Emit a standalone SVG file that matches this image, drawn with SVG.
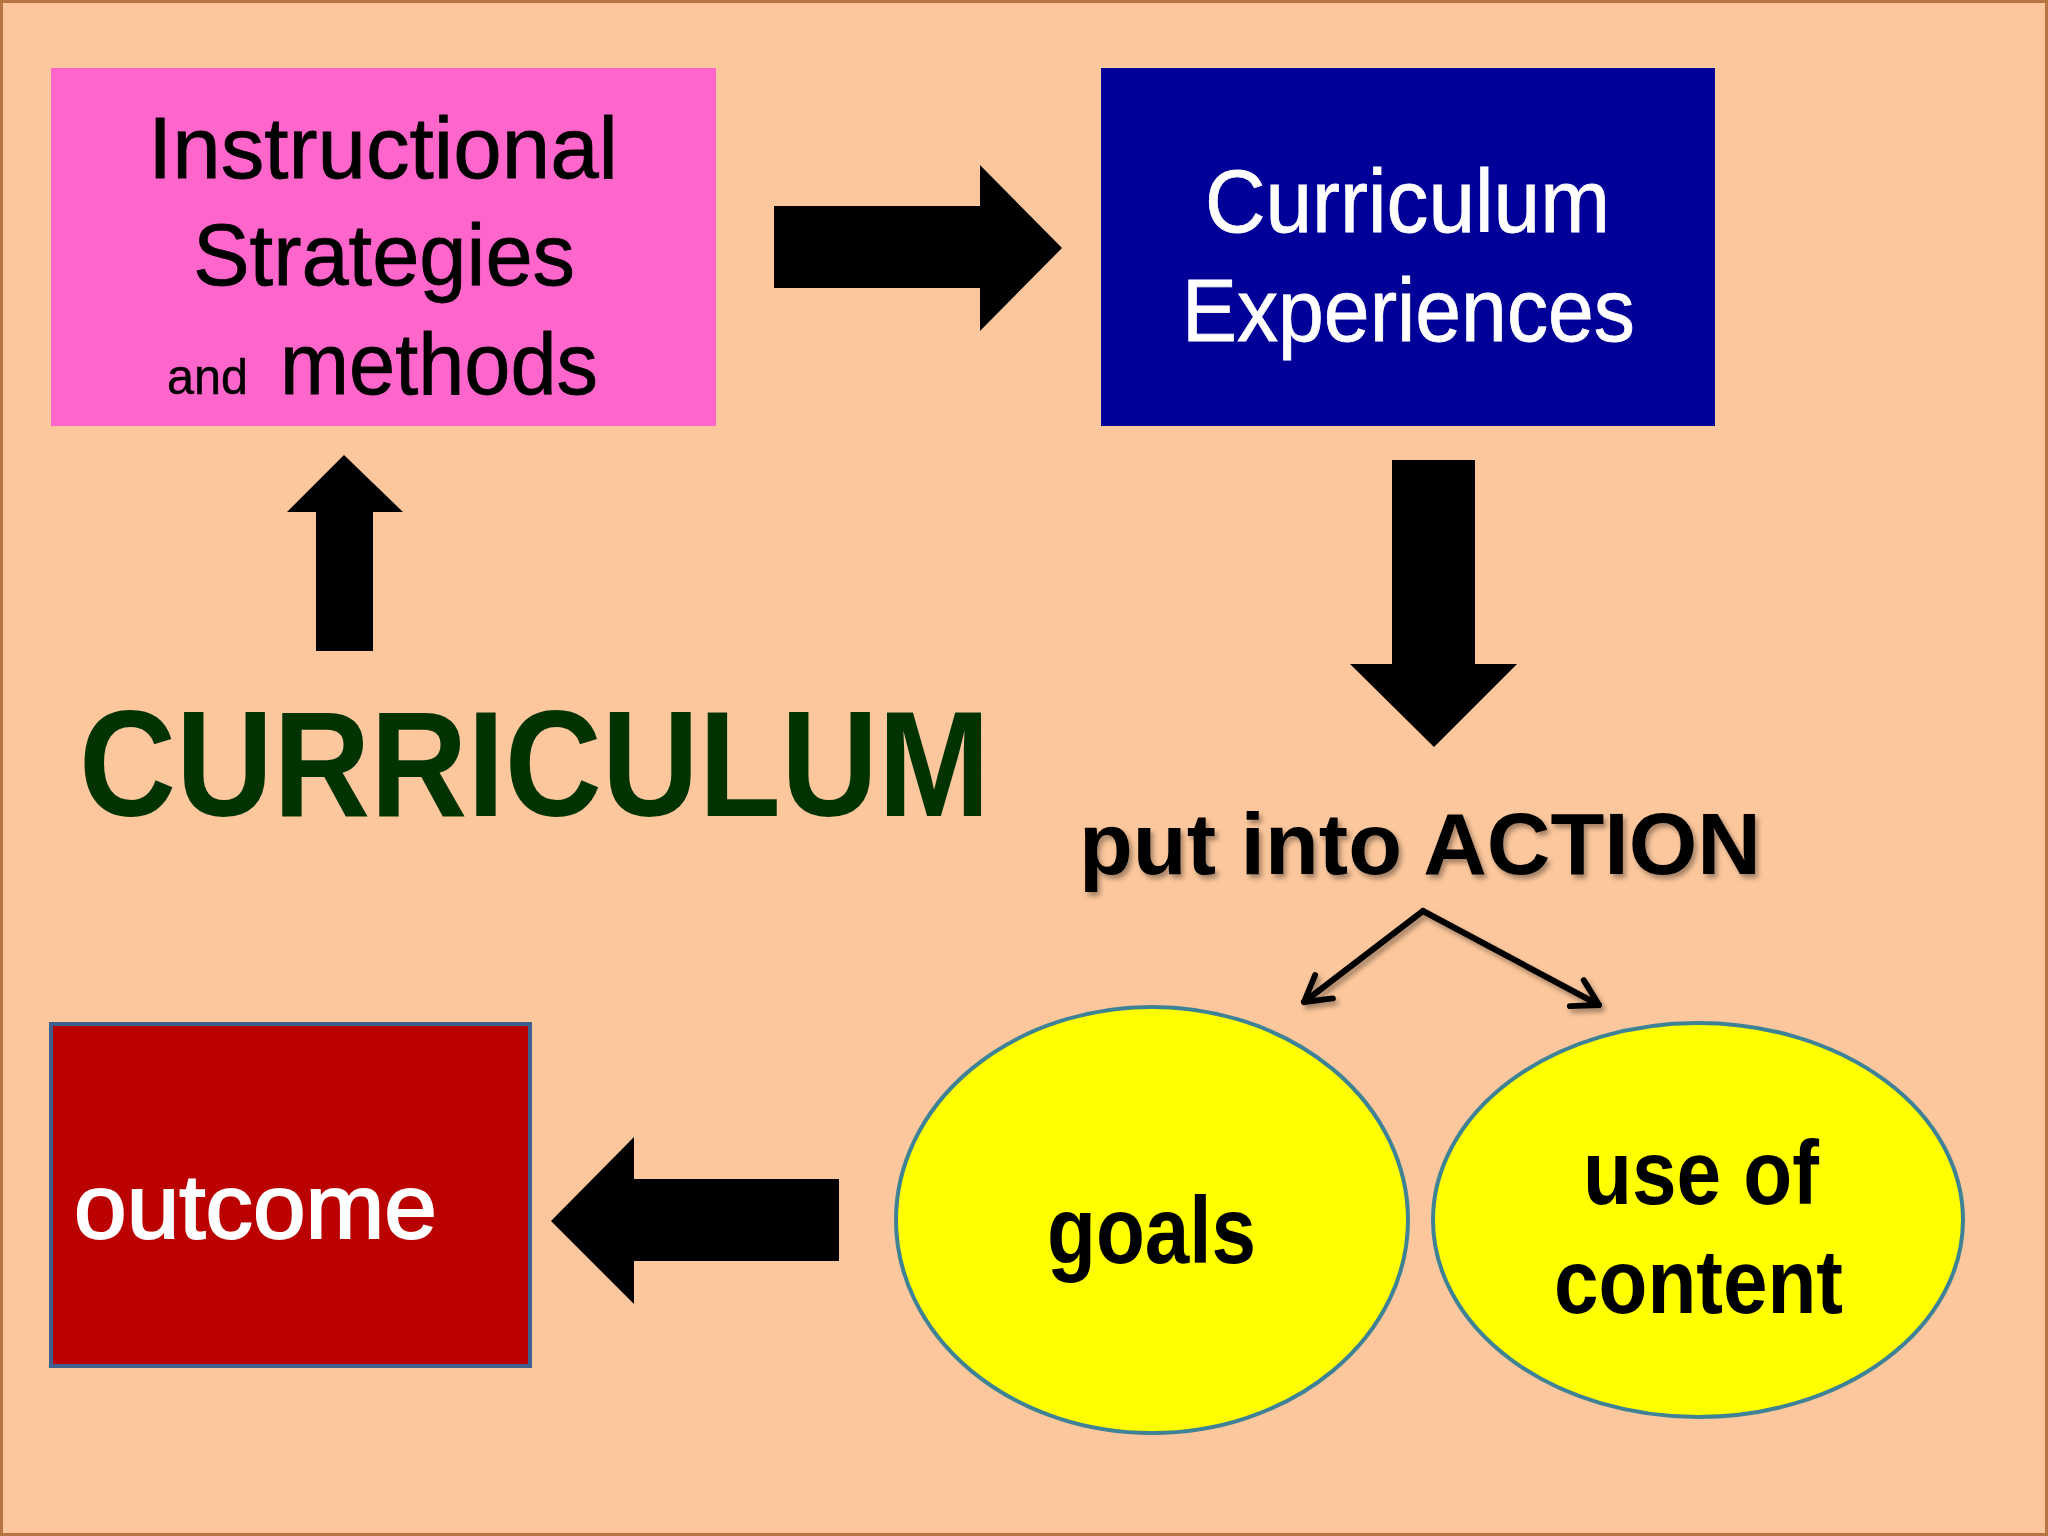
<svg xmlns="http://www.w3.org/2000/svg" width="2048" height="1536" viewBox="0 0 2048 1536">
  <defs>
    <style>
      .sans { font-family: "Liberation Sans", Arial, sans-serif; }
      .arrow { fill: #000000; }
      .ellipse { fill: #FFFF00; stroke: #3E8296; stroke-width: 4; }
      .thin { stroke: #000000; stroke-width: 6; fill: none; stroke-linecap: round; stroke-linejoin: round; }
    </style>
    <filter id="shadow" x="-10%" y="-20%" width="120%" height="150%">
      <feDropShadow dx="3" dy="4" stdDeviation="2.5" flood-color="#000000" flood-opacity="0.35"/>
    </filter>
    <marker id="openArrow" viewBox="0 0 20 20" refX="16" refY="10" markerWidth="7" markerHeight="7" markerUnits="strokeWidth" orient="auto">
      <path d="M4,3 L16,10 L4,17" fill="none" stroke="#000000" stroke-width="2.8" stroke-linecap="round" stroke-linejoin="round"/>
    </marker>
  </defs>

  <rect x="1.5" y="1.5" width="2045" height="1533" fill="#FCC79C" stroke="#B87440" stroke-width="3"/>

  <g id="node-instructional">
    <rect x="51" y="68" width="665" height="358" fill="#FF66CC"/>
    <text class="sans" x="148" y="178" font-size="87" fill="#000000" stroke="#000000" stroke-width="0.8" textLength="470" lengthAdjust="spacingAndGlyphs">Instructional</text>
    <text class="sans" x="193" y="285" font-size="87" fill="#000000" stroke="#000000" stroke-width="0.8" textLength="382" lengthAdjust="spacingAndGlyphs">Strategies</text>
    <text class="sans" x="167" y="394" font-size="50" fill="#000000" stroke="#000000" stroke-width="0.5" textLength="81" lengthAdjust="spacingAndGlyphs">and</text>
    <text class="sans" x="280" y="394" font-size="87" fill="#000000" stroke="#000000" stroke-width="0.8" textLength="318" lengthAdjust="spacingAndGlyphs">methods</text>
  </g>

  <g id="node-experiences">
    <rect x="1101" y="68" width="614" height="358" fill="#000099"/>
    <text class="sans" x="1205" y="232" font-size="89" fill="#FFFFFF" stroke="#FFFFFF" stroke-width="0.8" textLength="405" lengthAdjust="spacingAndGlyphs">Curriculum</text>
    <text class="sans" x="1182" y="341" font-size="89" fill="#FFFFFF" stroke="#FFFFFF" stroke-width="0.8" textLength="453" lengthAdjust="spacingAndGlyphs">Experiences</text>
  </g>

  <g id="node-curriculum">
    <text class="sans" x="79" y="816" font-size="150" font-weight="bold" fill="#003300" textLength="911" lengthAdjust="spacingAndGlyphs">CURRICULUM</text>
  </g>

  <g id="node-action">
    <text class="sans" x="1079" y="874" font-size="88" font-weight="bold" fill="#000000" filter="url(#shadow)" textLength="682" lengthAdjust="spacingAndGlyphs">put into ACTION</text>
  </g>

  <g id="node-outcome">
    <rect x="51" y="1024" width="479" height="342" fill="#BB0000" stroke="#3F5F8F" stroke-width="4"/>
    <text class="sans" x="74" y="1238" font-size="90" fill="#FFFFFF" stroke="#FFFFFF" stroke-width="2" textLength="363" lengthAdjust="spacingAndGlyphs">outcome</text>
  </g>

  <g id="node-goals">
    <ellipse class="ellipse" cx="1152" cy="1220" rx="256" ry="213"/>
    <text class="sans" x="1047" y="1263" font-size="94" font-weight="bold" fill="#000000" textLength="209" lengthAdjust="spacingAndGlyphs">goals</text>
  </g>

  <g id="node-content">
    <ellipse class="ellipse" cx="1698" cy="1220" rx="265" ry="197"/>
    <text class="sans" x="1583" y="1204" font-size="90" font-weight="bold" fill="#000000" textLength="236" lengthAdjust="spacingAndGlyphs">use of</text>
    <text class="sans" x="1554" y="1313" font-size="90" font-weight="bold" fill="#000000" textLength="289" lengthAdjust="spacingAndGlyphs">content</text>
  </g>

  <g id="connectors">
    <!-- right arrow: Instructional -> Experiences -->
    <polygon class="arrow" points="774,206 980,206 980,165 1062,248 980,331 980,288 774,288"/>
    <!-- down arrow: Experiences -> put into ACTION -->
    <polygon class="arrow" points="1392,460 1475,460 1475,664 1517,664 1434,747 1350,664 1392,664"/>
    <!-- up arrow: CURRICULUM -> Instructional -->
    <polygon class="arrow" points="316,651 373,651 373,512 403,512 344,455 287,512 316,512"/>
    <!-- left arrow: goals -> outcome -->
    <polygon class="arrow" points="839,1179 634,1179 634,1137 551,1221 634,1304 634,1261 839,1261"/>
    <!-- small arrows from put into ACTION -->
    <g filter="url(#shadow)">
      <path class="thin" d="M1423,911 L1304,1002" marker-end="url(#openArrow)"/>
      <path class="thin" d="M1423,911 L1599,1005" marker-end="url(#openArrow)"/>
    </g>
  </g>
</svg>
